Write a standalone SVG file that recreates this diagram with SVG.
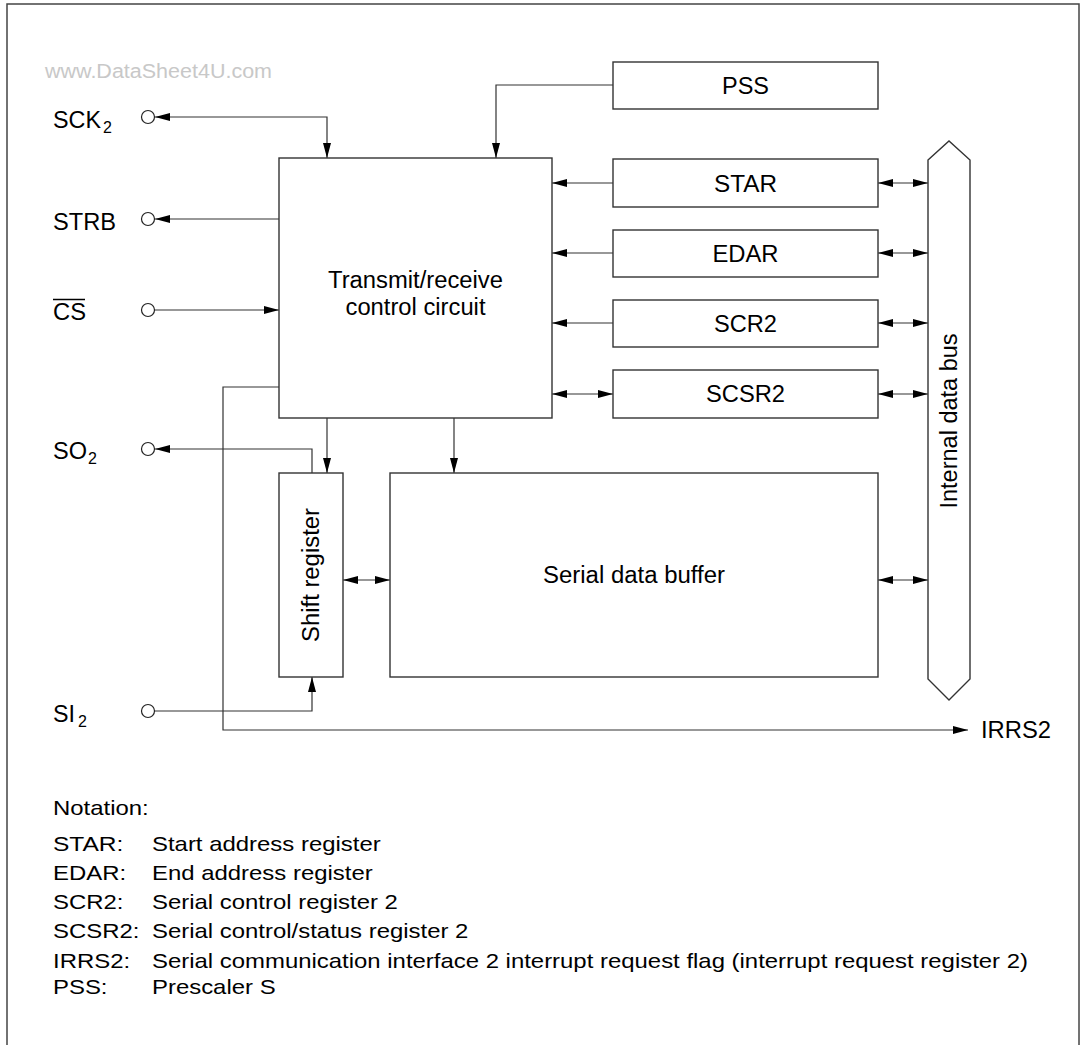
<svg xmlns="http://www.w3.org/2000/svg" width="1084" height="1045" viewBox="0 0 1084 1045">
<defs>
<marker id="arr" viewBox="0 0 15 8" refX="15" refY="4" markerWidth="15" markerHeight="8" markerUnits="userSpaceOnUse" orient="auto-start-reverse">
<path d="M0,0 L15,4 L0,8 z" fill="#000"/>
</marker>
<style>
.box{fill:#fff;stroke:#333;stroke-width:1.4}
.ln{fill:none;stroke:#333;stroke-width:1.2}
.t{font-family:"Liberation Sans",Arial,sans-serif;font-size:23px;fill:#000}
.n{font-family:"Liberation Sans",Arial,sans-serif;font-size:21px;fill:#000}
.s{font-family:"Liberation Sans",Arial,sans-serif;font-size:16px;fill:#000}
.pin{fill:#fff;stroke:#222;stroke-width:1.2}
</style>
</defs>
<rect x="0" y="0" width="1084" height="1045" fill="#fff"/>
<rect x="7" y="4" width="1072" height="1060" fill="none" stroke="#444" stroke-width="1.5"/>
<text x="45" y="78" font-family="Liberation Sans,Arial,sans-serif" font-size="19.5" fill="#c8c8c8" textLength="227" lengthAdjust="spacingAndGlyphs">www.DataSheet4U.com</text>

<g id="connectors">
<path class="ln" d="M155,117 H327 V158" marker-start="url(#arr)" marker-end="url(#arr)"/>
<path class="ln" d="M613,85 H496 V158" marker-end="url(#arr)"/>
<path class="ln" d="M279,219 H155" marker-end="url(#arr)"/>
<path class="ln" d="M155,310 H279" marker-end="url(#arr)"/>
<path class="ln" d="M279,387 H223 V730 H968" marker-end="url(#arr)"/>
<path class="ln" d="M312,473 V449 H155" marker-end="url(#arr)"/>
<path class="ln" d="M327,418 V473" marker-end="url(#arr)"/>
<path class="ln" d="M454,418 V473" marker-end="url(#arr)"/>
<path class="ln" d="M155,711 H312 V677" marker-end="url(#arr)"/>
<path class="ln" d="M343,580 H390" marker-start="url(#arr)" marker-end="url(#arr)"/>
<path class="ln" d="M613,183 H552" marker-end="url(#arr)"/>
<path class="ln" d="M613,253 H552" marker-end="url(#arr)"/>
<path class="ln" d="M613,323 H552" marker-end="url(#arr)"/>
<path class="ln" d="M552,394 H613" marker-start="url(#arr)" marker-end="url(#arr)"/>
<path class="ln" d="M878,183 H928" marker-start="url(#arr)" marker-end="url(#arr)"/>
<path class="ln" d="M878,253 H928" marker-start="url(#arr)" marker-end="url(#arr)"/>
<path class="ln" d="M878,323 H928" marker-start="url(#arr)" marker-end="url(#arr)"/>
<path class="ln" d="M878,394 H928" marker-start="url(#arr)" marker-end="url(#arr)"/>
<path class="ln" d="M878,580 H928" marker-start="url(#arr)" marker-end="url(#arr)"/>
</g>

<g id="pin-sck2"><circle class="pin" cx="148" cy="117" r="6.5"/><text class="t" x="53" y="128" textLength="48" lengthAdjust="spacingAndGlyphs">SCK</text><text class="s" x="103" y="133">2</text></g>
<g id="pin-strb"><circle class="pin" cx="148" cy="219" r="6.5"/><text class="t" x="53" y="230" textLength="63" lengthAdjust="spacingAndGlyphs">STRB</text></g>
<g id="pin-cs"><circle class="pin" cx="148" cy="310" r="6.5"/><text class="t" x="53" y="320" textLength="33" lengthAdjust="spacingAndGlyphs">CS</text><line x1="53" y1="299.5" x2="85" y2="299.5" stroke="#000" stroke-width="1.5"/></g>
<g id="pin-so2"><circle class="pin" cx="148" cy="449" r="6.5"/><text class="t" x="53" y="459" textLength="34" lengthAdjust="spacingAndGlyphs">SO</text><text class="s" x="88" y="464">2</text></g>
<g id="pin-si2"><circle class="pin" cx="148" cy="711" r="6.5"/><text class="t" x="53" y="722" textLength="22" lengthAdjust="spacingAndGlyphs">SI</text><text class="s" x="78" y="727">2</text></g>

<g id="control"><rect class="box" x="279" y="158" width="273" height="260"/>
<text class="t" x="415.5" y="288" text-anchor="middle" textLength="175" lengthAdjust="spacingAndGlyphs">Transmit/receive</text>
<text class="t" x="415.5" y="315" text-anchor="middle" textLength="140" lengthAdjust="spacingAndGlyphs">control circuit</text></g>

<g id="pss"><rect class="box" x="613" y="62" width="265" height="47"/><text class="t" x="745.5" y="94" text-anchor="middle" textLength="47" lengthAdjust="spacingAndGlyphs">PSS</text></g>
<g id="star"><rect class="box" x="613" y="159" width="265" height="48"/><text class="t" x="745.5" y="192" text-anchor="middle" textLength="63" lengthAdjust="spacingAndGlyphs">STAR</text></g>
<g id="edar"><rect class="box" x="613" y="230" width="265" height="47"/><text class="t" x="745.5" y="262" text-anchor="middle" textLength="66" lengthAdjust="spacingAndGlyphs">EDAR</text></g>
<g id="scr2"><rect class="box" x="613" y="300" width="265" height="47"/><text class="t" x="745.5" y="332" text-anchor="middle" textLength="63" lengthAdjust="spacingAndGlyphs">SCR2</text></g>
<g id="scsr2"><rect class="box" x="613" y="370" width="265" height="48"/><text class="t" x="745.5" y="402" text-anchor="middle" textLength="79" lengthAdjust="spacingAndGlyphs">SCSR2</text></g>

<g id="shift"><rect class="box" x="279" y="473" width="64" height="204"/>
<text class="t" transform="translate(319,575) rotate(-90)" x="0" y="0" text-anchor="middle" textLength="134" lengthAdjust="spacingAndGlyphs">Shift register</text></g>

<g id="buffer"><rect class="box" x="390" y="473" width="488" height="204"/>
<text class="t" x="634" y="583" text-anchor="middle" textLength="182" lengthAdjust="spacingAndGlyphs">Serial data buffer</text></g>

<g id="bus"><polygon class="box" points="928,160 949,141 970,160 970,679 949,700 928,679"/>
<text class="t" transform="translate(957,421) rotate(-90)" x="0" y="0" text-anchor="middle" textLength="175" lengthAdjust="spacingAndGlyphs">Internal data bus</text></g>

<g id="irrs2"><text class="t" x="981" y="738" textLength="70" lengthAdjust="spacingAndGlyphs">IRRS2</text></g>

<g id="notation">
<text class="n" x="53" y="815" textLength="95.7" lengthAdjust="spacingAndGlyphs">Notation:</text>
<text class="n" x="53" y="851" textLength="70.4" lengthAdjust="spacingAndGlyphs">STAR:</text>
<text class="n" x="152" y="851" textLength="228.7" lengthAdjust="spacingAndGlyphs">Start address register</text>
<text class="n" x="53" y="880" textLength="73.1" lengthAdjust="spacingAndGlyphs">EDAR:</text>
<text class="n" x="152" y="880" textLength="220.7" lengthAdjust="spacingAndGlyphs">End address register</text>
<text class="n" x="53" y="909" textLength="70.4" lengthAdjust="spacingAndGlyphs">SCR2:</text>
<text class="n" x="152" y="909" textLength="245.9" lengthAdjust="spacingAndGlyphs">Serial control register 2</text>
<text class="n" x="53" y="938" textLength="86.4" lengthAdjust="spacingAndGlyphs">SCSR2:</text>
<text class="n" x="152" y="938" textLength="316.4" lengthAdjust="spacingAndGlyphs">Serial control/status register 2</text>
<text class="n" x="53" y="968" textLength="77.1" lengthAdjust="spacingAndGlyphs">IRRS2:</text>
<text class="n" x="152" y="968" textLength="876" lengthAdjust="spacingAndGlyphs">Serial communication interface 2 interrupt request flag (interrupt request register 2)</text>
<text class="n" x="53" y="994" textLength="54.5" lengthAdjust="spacingAndGlyphs">PSS:</text>
<text class="n" x="152" y="994" textLength="123.6" lengthAdjust="spacingAndGlyphs">Prescaler S</text>
</g>
</svg>
